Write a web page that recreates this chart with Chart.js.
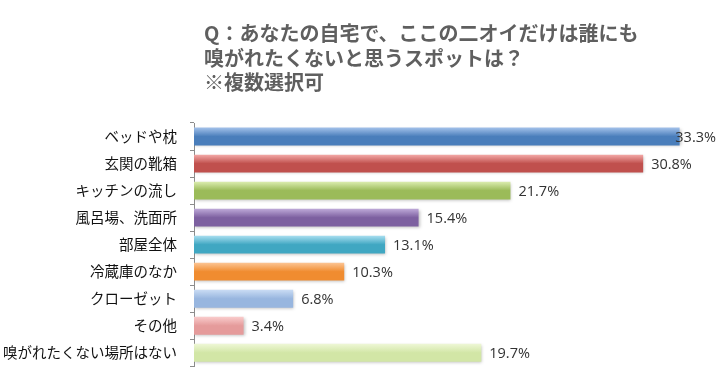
<!DOCTYPE html>
<html><head><meta charset="utf-8">
<script src="https://cdn.jsdelivr.net/npm/chart.js@4"></script>
<style>
html,body{margin:0;padding:0;background:#fff;}
#wrap{position:relative;width:719px;height:388px;}
#title{position:absolute;left:204px;top:21px;font-family:"Noto Sans CJK JP",sans-serif;font-weight:bold;font-size:20px;line-height:24.5px;color:#5f5f5f;white-space:nowrap;}
canvas{position:absolute;left:0;top:0;}
</style></head>
<body><div id="wrap"><canvas id="c" width="719" height="388"></canvas>
<div id="title">Q：あなたの自宅で、ここの二オイだけは誰にも<br>嗅がれたくないと思うスポットは？<br>※複数選択可</div></div>
<script>
const categories = ["ベッドや枕","玄関の靴箱","キッチンの流し","風呂場、洗面所","部屋全体","冷蔵庫のなか","クローゼット","その他","嗅がれたくない場所はない"];
const values = [33.3, 30.8, 21.7, 15.4, 13.1, 10.3, 6.8, 3.4, 19.7];
const valueLabels = ["33.3%","30.8%","21.7%","15.4%","13.1%","10.3%","6.8%","3.4%","19.7%"];
const topColors = ["#a3c1ea","#f4aaa8","#dcedb0","#bfaad9","#a8def0","#fcc594","#cadcf4","#f9cccc","#eef7d6"];
const bottomColors = ["#4a7ebb","#c0504d","#9bbb59","#7d60a0","#40a7c2","#f08c30","#98b6df","#e59b9b","#d2e6a6"];

function barFill(ctx){
  const chart = ctx.chart;
  const i = ctx.dataIndex;
  const ys = chart.scales && chart.scales.y;
  if (!ys || i === undefined || !chart.chartArea) return bottomColors[i] || "#888";
  const c = ys.getPixelForValue(i);
  const h = ys.height / categories.length * 0.66;
  const g = chart.ctx.createLinearGradient(0, c - h/2, 0, c + h/2);
  g.addColorStop(0, topColors[i]);
  g.addColorStop(0.5, bottomColors[i]);
  g.addColorStop(1, bottomColors[i]);
  return g;
}

const valuePlugin = {
  id: 'vals',
  afterDatasetsDraw(chart){
    const ctx = chart.ctx;
    const meta = chart.getDatasetMeta(0);
    ctx.save();
    ctx.font = '14.5px "Open Sans", "Noto Sans", sans-serif';
    ctx.fillStyle = '#333';
    ctx.textBaseline = 'middle';
    ctx.textAlign = 'left';
    meta.data.forEach((bar, i) => {
      const t = valueLabels[i];
      const w = ctx.measureText(t).width;
      let x = bar.x + 8;
      if (x + w > chart.width - 3) x = chart.width - 3 - w;
      ctx.fillText(t, x, bar.y + 1);
    });
    ctx.restore();
  }
};

const shadowPlugin = {
  id: 'shadow',
  beforeDatasetsDraw(chart){
    const ctx = chart.ctx; ctx.save();
    ctx.shadowColor = 'rgba(0,0,0,0.25)'; ctx.shadowBlur = 3; ctx.shadowOffsetX = 1; ctx.shadowOffsetY = 1;
  },
  afterDatasetsDraw(chart){ chart.ctx.restore(); }
};

new Chart(document.getElementById('c'), {
  type: 'bar',
  data: { labels: categories, datasets: [{ data: values, backgroundColor: barFill, borderWidth: 0, categoryPercentage: 1, barPercentage: 0.66 }] },
  plugins: [shadowPlugin, valuePlugin],
  options: {
    indexAxis: 'y',
    responsive: false,
    animation: false,
    layout: { padding: { top: 123, bottom: 19, left: 0, right: 0 } },
    plugins: { legend: { display: false }, tooltip: { enabled: false } },
    scales: {
      x: { display: false, min: 0, max: 36 },
      y: {
        afterFit(s){ s.width = 194; },
        border: { display: true, color: '#8c8c8c', width: 1 },
        grid: { offset: true, drawOnChartArea: false, drawTicks: true, tickLength: 4, color: '#8c8c8c' },
        ticks: { padding: 13, color: '#111', font: { family: '"Noto Sans CJK JP", sans-serif', size: 14.5 } }
      }
    }
  }
});
</script></body></html>
